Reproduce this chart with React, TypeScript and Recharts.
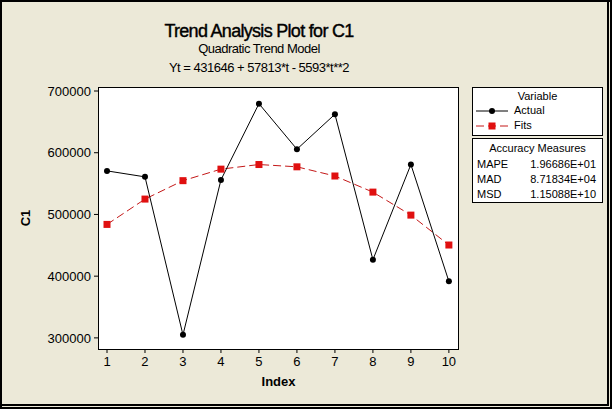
import { LineChart, Line, XAxis, YAxis } from 'recharts';

const indexes = [1, 2, 3, 4, 5, 6, 7, 8, 9, 10];
const actual = [570600, 560900, 304900, 556000, 679500, 605700, 662300, 426700, 580900, 391600];
const fits = [483866, 524900, 554748, 573410, 580886, 577176, 562280, 536198, 498930, 450476];
const yTicks = [300000, 400000, 500000, 600000, 700000];
const accuracy = [
  ['MAPE', '1.96686E+01'],
  ['MAD', '8.71834E+04'],
  ['MSD', '1.15088E+10'],
];

const rows = indexes.map((t, i) => ({ t, actual: actual[i], fits: fits[i] }));

const font = '"Liberation Sans", Arial, sans-serif';
const BG = '#ECE9D8';
const FIT_LINE = '#C41818';
const FIT_DOT = '#E01010';

const SquareDot = (props: any) => {
  const { cx, cy, index } = props;
  if (cx == null || cy == null) return <g key={index} />;
  return <rect key={index} x={cx - 3.5} y={cy - 3.5} width={7} height={7} fill={FIT_DOT} />;
};

const RoundDot = (props: any) => {
  const { cx, cy, index } = props;
  if (cx == null || cy == null) return <g key={index} />;
  return <circle key={index} cx={cx} cy={cy} r={3} fill="#000" />;
};

const abs = (l: number, t: number, w: number, h: number): React.CSSProperties => ({
  position: 'absolute', left: l, top: t, width: w, height: h,
});

export default function App() {
  document.body.style.margin = '0';
  return (
    <div style={{ position: 'relative', width: 612, height: 409, background: BG, fontFamily: font, color: '#000', overflow: 'hidden' }}>
      {/* window frame */}
      <div style={{ ...abs(0, 0, 610, 407), borderLeft: '2px solid #000', borderTop: '2px solid #000', boxSizing: 'border-box' }} />
      <div style={{ ...abs(0, 0, 609, 406), borderRight: '2px solid #000', borderBottom: '2px solid #000', boxSizing: 'border-box' }} />
      <div style={{ ...abs(0, 0, 612, 409), borderRight: '2px solid #000', borderBottom: '2px solid #000', boxSizing: 'border-box' }} />

      <div style={{ position: 'absolute', left: 0, width: 518, top: 21, textAlign: 'center', fontSize: 18, letterSpacing: -0.7, fontWeight: 'normal', WebkitTextStroke: '0.4px #000' }}>
        Trend Analysis Plot for C1
      </div>
      <div style={{ position: 'absolute', left: 0, width: 518, top: 41, textAlign: 'center', fontSize: 13, letterSpacing: -0.5 }}>
        Quadratic Trend Model
      </div>
      <div style={{ position: 'absolute', left: 0, width: 518, top: 60, textAlign: 'center', fontSize: 13, letterSpacing: -0.5 }}>
        Yt = 431646 + 57813*t - 5593*t**2
      </div>

      {/* plot box */}
      <div style={{ ...abs(98, 87, 361, 263), background: '#fff', border: '1px solid #000', boxSizing: 'border-box' }} />

      <div style={{ position: 'absolute', left: 0, top: 0 }}>
        <LineChart width={612} height={409} data={rows} margin={{ top: 87, right: 154, bottom: 40, left: 38 }}>
          <XAxis
            dataKey="t"
            type="number"
            domain={[0.763, 10.24]}
            ticks={indexes}
            axisLine={false}
            tickLine={{ stroke: '#000' }}
            tickSize={4}
            tickMargin={4}
            height={20}
            tick={{ fill: '#000', fontSize: 13, fontFamily: font }}
          />
          <YAxis
            type="number"
            domain={[282000, 706500]}
            ticks={yTicks}
            axisLine={false}
            tickLine={{ stroke: '#000' }}
            tickSize={4}
            tickMargin={3}
            width={60}
            tick={{ fill: '#000', fontSize: 13, fontFamily: font }}
          />
          <Line
            dataKey="fits"
            stroke={FIT_LINE}
            strokeWidth={1}
            strokeDasharray="8 4"
            dot={SquareDot}
            isAnimationActive={false}
          />
          <Line
            dataKey="actual"
            stroke="#000"
            strokeWidth={1}
            dot={RoundDot}
            isAnimationActive={false}
          />
        </LineChart>
      </div>

      <div style={{ position: 'absolute', left: 25, top: 218, transform: 'translate(-50%, -50%) rotate(-90deg)', fontSize: 13, fontWeight: 'bold' }}>
        C1
      </div>
      <div style={{ position: 'absolute', left: 98, width: 361, top: 374, textAlign: 'center', fontSize: 13, fontWeight: 'bold' }}>
        Index
      </div>

      {/* legend */}
      <div style={{ ...abs(472, 87, 131, 49), background: '#fff', border: '1px solid #000', boxSizing: 'border-box', fontSize: 11 }}>
        <div style={{ position: 'absolute', left: 0, width: 129, top: 2, textAlign: 'center' }}>Variable</div>
        <svg style={{ position: 'absolute', left: 3, top: 17 }} width={34} height={30}>
          <line x1={0} y1={6} x2={32} y2={6} stroke="#000" />
          <circle cx={16} cy={6} r={3} fill="#000" />
          <line x1={0} y1={21} x2={32} y2={21} stroke={FIT_LINE} strokeDasharray="8 4" />
          <rect x={12.5} y={17.5} width={7} height={7} fill={FIT_DOT} />
        </svg>
        <div style={{ position: 'absolute', left: 41, top: 16 }}>Actual</div>
        <div style={{ position: 'absolute', left: 41, top: 31 }}>Fits</div>
      </div>

      <div style={{ ...abs(472, 138, 131, 65), background: '#fff', border: '1px solid #000', boxSizing: 'border-box', fontSize: 11 }}>
        <div style={{ position: 'absolute', left: 0, width: 129, top: 3, textAlign: 'center' }}>Accuracy Measures</div>
        {accuracy.map(([k, v], i) => (
          <div key={k}>
            <div style={{ position: 'absolute', left: 4, top: 19 + i * 15 }}>{k}</div>
            <div style={{ position: 'absolute', right: 6, top: 19 + i * 15 }}>{v}</div>
          </div>
        ))}
      </div>
    </div>
  );
}
